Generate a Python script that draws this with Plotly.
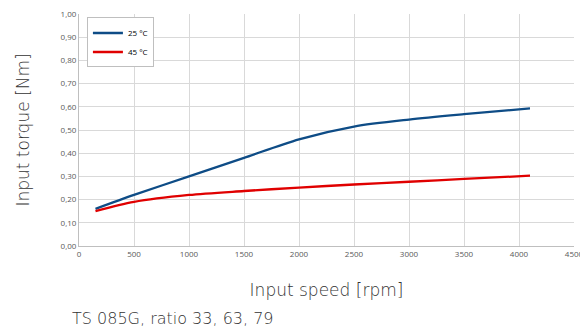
import plotly.graph_objects as go

speed = [150, 500, 1000, 1500, 2000, 2500, 3000, 3500, 4100]
torque_25 = [0.16, 0.22, 0.30, 0.38, 0.46, 0.515, 0.545, 0.568, 0.593]
torque_45 = [0.15, 0.19, 0.22, 0.237, 0.252, 0.265, 0.277, 0.289, 0.303]

title_font = dict(size=17, color="#333333", family="DejaVu Sans", weight=300)

fig = go.Figure()
fig.add_trace(go.Scatter(x=speed, y=torque_25, mode="lines", name="25 °C",
                         line=dict(color="#0E4C86", width=2.3, shape="spline", smoothing=0.8)))
fig.add_trace(go.Scatter(x=speed, y=torque_45, mode="lines", name="45 °C",
                         line=dict(color="#E00000", width=2.3, shape="spline", smoothing=0.8)))

grid = "#D9D9D9"
fig.update_xaxes(range=[0, 4500], dtick=500, showgrid=True, gridcolor=grid, gridwidth=1,
                 showline=True, linecolor="#BFBFBF", zeroline=False, automargin=False,
                 ticklabeloverflow="allow",
                 tickfont=dict(size=8, color="#595959", family="Open Sans"), ticks="",
                 title=dict(text="Input speed [rpm]", font=title_font, standoff=26))
fig.update_yaxes(range=[0, 1.0], dtick=0.1, tickformat=".2f",
                 showgrid=True, gridcolor=grid, gridwidth=1,
                 showline=True, linecolor="#BFBFBF", zeroline=False, automargin=False,
                 ticklabeloverflow="allow",
                 tickfont=dict(size=8, color="#595959", family="Open Sans"), ticks="",
                 title=dict(text="Input torque [Nm]", font=title_font, standoff=26))

# page body has an 8px margin, so the figure is sized 8px smaller
fig.update_layout(
    width=580, height=323,
    margin=dict(l=71, r=14, t=6, b=85),
    plot_bgcolor="white", paper_bgcolor="white",
    separators=", ",
    showlegend=True,
    legend=dict(x=0.016, y=0.985, xanchor="left", yanchor="top",
                bgcolor="white", bordercolor="#BFBFBF", borderwidth=1,
                font=dict(size=8, color="#000000", family="Open Sans"),
                itemwidth=30, tracegroupgap=0),
    annotations=[dict(text="TS 085G, ratio 33, 63, 79",
                      x=(70 - 79) / (574 - 79), y=-(318 - 246) / (246 - 14),
                      xref="paper", yref="paper", xanchor="left", yanchor="middle",
                      showarrow=False, font=dict(title_font, size=16))],
)

fig.write_html("out.html")
